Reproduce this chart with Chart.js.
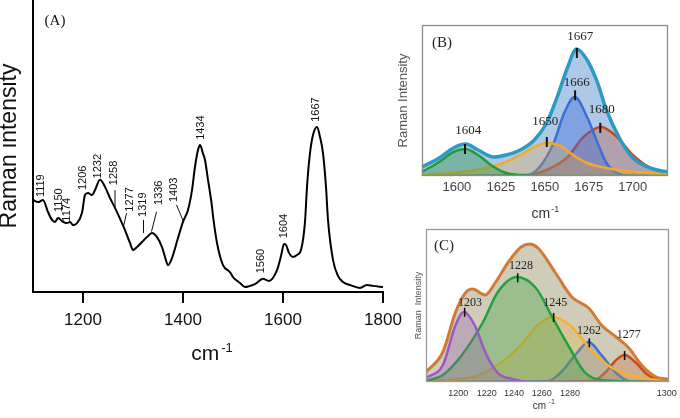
<!DOCTYPE html>
<html><head><meta charset="utf-8">
<script src="https://cdn.jsdelivr.net/npm/chart.js@4.4.0/dist/chart.umd.min.js"></script>
<style>
html,body{margin:0;padding:0;background:#fff;}
body{width:680px;height:418px;position:relative;overflow:hidden;}
canvas{position:absolute;}
#ca{left:0;top:0;}
#cb{left:390px;top:0;}
#cc{left:390px;top:215px;}
</style></head><body>
<canvas id="ca" width="412" height="418"></canvas>
<canvas id="cb" width="290" height="230"></canvas>
<canvas id="cc" width="290" height="203"></canvas>
<script>
// ---------- Panel A data ----------
const aWave = [1100,1110,1120,1130,1138,1144,1150,1160,1168,1174,1180,1188,1198,1204,1210,1218,1224,1234,1244,1254,1264,1278,1284,1294,1300,1308,1318,1328,1338,1348,1358,1364,1370,1378,1390,1400,1410,1418,1424,1430,1434,1440,1444,1450,1457,1461,1468,1480,1494,1500,1514,1524,1534,1544,1560,1572,1588,1596,1602,1606,1612,1620,1628,1636,1644,1648,1654,1660,1668,1674,1680,1686,1690,1700,1710,1720,1734,1754,1768,1780,1800];
const aInt = [31.5,30.8,31.5,27.4,24.7,24.0,25.3,24.0,23.6,24.0,22.9,23.6,27.1,33.2,33.9,33.2,34.9,38.4,36.0,32.2,28.8,23.6,21.2,16.8,14.4,15.4,17.1,18.8,20.2,18.8,15.4,12.0,9.2,11.6,18.5,24.0,28.1,34.9,42.9,48.6,50.3,47.4,45.2,38.4,30.5,24.7,16.8,9.2,6.8,5.1,3.1,1.7,2.1,2.7,4.5,3.8,7.5,12.3,16.4,16.1,13.4,12.0,12.7,14.4,24.0,36.0,47.6,53.8,56.5,53.1,47.6,36.0,24.7,11.0,5.5,3.4,2.4,1.4,2.4,2.1,1.7];
const aTicks = [1200,1400,1600,1800];
const aPeakText = ['1119','1150','1174','1206','1232','1258','1277','1319','1336','1403','1434','1560','1604','1667'];
const aPeakX = [1116,1151,1167,1199,1229,1262,1294,1319,1352,1382,1436,1556,1601,1666];
const aPeakY = [32.5,27.4,24.1,34.9,38.9,36.6,27.5,25.7,29.8,30.8,52.1,6.4,18.4,58.3];
const aLeadX1 = [1264,1281,1321,1337,1401];
const aLeadY1 = [28.8,22.4,20.2,20.7,24.1];
const aLeadX2 = [1264,1287,1321,1347,1387];
const aLeadY2 = [34.9,27.0,24.7,27.5,29.8];

// ---------- Panel B data ----------
const bTicks = [1600,1625,1650,1675,1700];
const bEnvX = [1580,1590,1598,1605,1612,1621,1628,1636,1644,1651,1657,1663,1668,1674,1680,1685,1693,1700,1710,1720];
const bEnvY = [9,18,28,32,26,19,21,26,36,53,79,109,127,116,93,66,36,18,8,4];
const bGreenX = [1580,1590,1598,1605,1612,1621,1628,1636,1645,1720];
const bGreenY = [4,14,24,27,21,9,3,1,0,0];
const bOrangeX = [1580,1598,1617,1628,1636,1644,1651,1659,1666,1674,1685,1700,1720];
const bOrangeY = [1,3,8,14,21,29,33,30,21,13,8,4,2];
const bBlueX = [1580,1640,1647,1655,1661,1667,1674,1680,1685,1691,1700,1720];
const bBlueY = [0,1,9,33,63,79,59,33,13,3,0,0];
const bRedX = [1580,1640,1651,1663,1672,1682,1691,1700,1710,1720];
const bRedY = [0,1,6,19,39,49,39,21,8,3];
const bPeakText = ['1604','1650','1666','1680','1667'];
const bPeakX = [1604.6,1651.1,1667.2,1681.5,1668.2];
const bPeakY = [27,34,80.7,48.2,123];
const bTextX = [1606.5,1650.2,1668.2,1682.4,1670.1];
const bTextY = [45.7,54,93,66.5,139];

// ---------- Panel C data ----------
const cTickVal = [1200.3,1213.7,1226.6,1239.8,1253.2,1298.9];
const cTickText = ['1200','1220','1240','1260','1280','1300'];
const cEnvX = [1185,1193,1199,1204,1207,1213,1218,1224,1230,1234,1238,1246,1254,1262,1268,1275,1281,1287,1294,1300];
const cEnvY = [10,30,70,90,93,87,100,120,135,138,134,110,85,74,57,45,34,17,5,3];
const cPurpleX = [1185,1193,1199,1203,1208,1213,1219,1226,1235,1300];
const cPurpleY = [4,17,57,70,57,30,9,3,0,0];
const cGreenX = [1185,1193,1202,1212,1219,1228,1237,1245,1253,1260,1268,1300];
const cGreenY = [1,7,27,60,90,105,94,64,34,10,2,0];
const cOrangeX = [1185,1207,1219,1230,1238,1245,1253,1262,1271,1281,1294,1300];
const cOrangeY = [1,5,17,37,57,65,57,35,17,7,2,1];
const cBlueX = [1185,1243,1249,1256,1262,1268,1275,1281,1300];
const cBlueY = [0,1,10,28,40,27,9,1,0];
const cRedX = [1185,1264,1270,1275,1279,1284,1290,1297,1300];
const cRedY = [0,1,10,22,27,20,7,1,0];
const cPeakText = ['1203','1228','1245','1262','1277'];
const cPeakX = [1203.3,1228.4,1245.4,1262.3,1279];
const cPeakY = [69.7,104.2,64.5,39.2,26.5];
const cTextX = [1205.8,1230,1246.2,1262.1,1281];
const cTextY = [78.7,116.5,78.7,50.7,47];

const SANS = '"Liberation Sans", Arial, sans-serif';
const SERIF = '"Liberation Serif", "Times New Roman", serif';

function pts(xs, ys) { return xs.map((x, i) => ({x: x, y: ys[i]})); }
function line(xs, ys, color, width, fillColor) {
  return {
    data: pts(xs, ys), borderColor: color, borderWidth: width,
    backgroundColor: fillColor || 'rgba(0,0,0,0)', fill: fillColor ? 'origin' : false,
    pointRadius: 0, cubicInterpolationMode: 'monotone'
  };
}
function fixX(h) {
  return s => { s.height = h; s.paddingLeft = 0; s.paddingRight = 0; s.paddingTop = 0; s.paddingBottom = 0; };
}
function fixY(w) {
  return s => { s.width = w; s.paddingTop = 0; s.paddingBottom = 0; s.paddingLeft = 0; s.paddingRight = 0; };
}

function drawUnit(ctx, cx, baseY, size, supSize, rise, gap, color, mainText) {
  ctx.save();
  ctx.fillStyle = color;
  ctx.textAlign = 'left';
  ctx.textBaseline = 'alphabetic';
  ctx.font = size + 'px ' + SANS;
  const w1 = ctx.measureText(mainText).width;
  ctx.font = supSize + 'px ' + SANS;
  const w2 = ctx.measureText('-1').width;
  const x0 = cx - (w1 + gap + w2) / 2;
  ctx.font = size + 'px ' + SANS;
  ctx.fillText(mainText, x0, baseY);
  ctx.font = supSize + 'px ' + SANS;
  ctx.fillText('-1', x0 + w1 + gap, baseY - rise);
  ctx.restore();
}

// ---------- Panel A ----------
const annA = {
  id: 'annA',
  afterDatasetsDraw(chart) {
    const {ctx, chartArea: ca} = chart;
    const xs = chart.scales.x, ys = chart.scales.y;
    ctx.save();
    ctx.fillStyle = '#111';
    ctx.font = '11px ' + SANS;
    ctx.textAlign = 'left';
    ctx.textBaseline = 'middle';
    aPeakText.forEach((t, i) => {
      ctx.save();
      ctx.translate(xs.getPixelForValue(aPeakX[i]), ys.getPixelForValue(aPeakY[i]));
      ctx.rotate(-Math.PI / 2);
      ctx.fillText(t, 0, 0);
      ctx.restore();
    });
    ctx.strokeStyle = '#111';
    ctx.lineWidth = 1;
    aLeadX1.forEach((v, i) => {
      ctx.beginPath();
      ctx.moveTo(xs.getPixelForValue(v), ys.getPixelForValue(aLeadY1[i]));
      ctx.lineTo(xs.getPixelForValue(aLeadX2[i]), ys.getPixelForValue(aLeadY2[i]));
      ctx.stroke();
    });
    ctx.font = '15px ' + SERIF;
    ctx.textAlign = 'center';
    ctx.fillText('(A)', xs.getPixelForValue(1144), ys.getPixelForValue(92.8));
    ctx.restore();
    drawUnit(ctx, (ca.left + ca.right) / 2 + 4, ca.bottom + 68, 21, 13, 8, 2, '#111', 'cm');
  }
};

new Chart(document.getElementById('ca'), {
  type: 'line',
  data: { datasets: [ line(aWave, aInt, '#000', 2) ] },
  options: {
    responsive: false, animation: false, devicePixelRatio: 1,
    layout: { padding: {left: 0, right: 29, top: 0, bottom: 0} },
    plugins: { legend: {display: false}, tooltip: {enabled: false} },
    scales: {
      x: {
        type: 'linear', min: 1100, max: 1800,
        afterBuildTicks: s => { s.ticks = aTicks.map(v => ({value: v})); },
        afterFit: fixX(126),
        ticks: { autoSkip: false, maxRotation: 0, padding: 7, color: '#111',
                 font: {size: 17, family: SANS}, callback: v => String(v) },
        grid: { display: true, drawOnChartArea: false, drawTicks: true, tickLength: 11,
                color: '#000', tickColor: '#000', lineWidth: 2, tickWidth: 2 },
        border: { display: true, color: '#000', width: 2 }
      },
      y: {
        min: 0, max: 100,
        afterFit: fixY(33),
        ticks: { display: false },
        grid: { display: false, drawTicks: false },
        border: { display: true, color: '#000', width: 2 },
        title: { display: true, text: 'Raman intensity', color: '#111',
                 font: {size: 23, family: SANS}, padding: {top: -4.6, bottom: 0} }
      }
    }
  },
  plugins: [annA]
});

// ---------- Panels B & C ----------
function peakPlugin(cfg) {
  return {
    id: 'peaks' + cfg.key,
    afterDatasetsDraw(chart) {
      const {ctx, chartArea: ca} = chart;
      const xs = chart.scales.x, ys = chart.scales.y;
      ctx.save();
      ctx.strokeStyle = cfg.boxColor;
      ctx.lineWidth = cfg.boxWidth;
      ctx.strokeRect(Math.round(ca.left) + 0.5, Math.round(ca.top) + 0.5,
                     Math.round(ca.right - ca.left) - 1, Math.round(ca.bottom - ca.top) - 1);
      if (cfg.innerTicks) {
        ctx.lineWidth = 1;
        xs.ticks.forEach(t => {
          const X = Math.round(xs.getPixelForValue(t.value)) + 0.5;
          ctx.beginPath(); ctx.moveTo(X, ca.bottom); ctx.lineTo(X, ca.bottom - 4); ctx.stroke();
        });
      }
      ctx.strokeStyle = '#111';
      ctx.lineWidth = cfg.tickWidth;
      cfg.px.forEach((v, i) => {
        const X = xs.getPixelForValue(v), Y = ys.getPixelForValue(cfg.py[i]);
        ctx.beginPath(); ctx.moveTo(X, Y - cfg.tickHalf); ctx.lineTo(X, Y + cfg.tickHalf); ctx.stroke();
      });
      ctx.fillStyle = '#222';
      ctx.font = cfg.labelSize + 'px ' + SERIF;
      ctx.textAlign = 'center';
      ctx.textBaseline = 'middle';
      cfg.text.forEach((t, i) => ctx.fillText(t, xs.getPixelForValue(cfg.tx[i]), ys.getPixelForValue(cfg.ty[i])));
      ctx.font = '15px ' + SERIF;
      ctx.fillText(cfg.panel, xs.getPixelForValue(cfg.panelX), ys.getPixelForValue(cfg.panelY));
      ctx.restore();
      drawUnit(ctx, (ca.left + ca.right) / 2 + cfg.unitDx, ca.bottom + cfg.unitDy,
               cfg.unitSize, cfg.supSize, cfg.rise, cfg.gap, '#333', cfg.unitText);
    }
  };
}

// Panel B
new Chart(document.getElementById('cb'), {
  type: 'line',
  data: { datasets: [
    line(bEnvX, bEnvY, '#2b9bc2', 3.5),
    line(bGreenX, bGreenY, '#239a38', 2.5, 'rgba(40,150,60,0.40)'),
    line(bOrangeX, bOrangeY, '#f2aa2e', 2.5, 'rgba(235,165,40,0.28)'),
    line(bBlueX, bBlueY, '#3b6fd8', 2.5, 'rgba(60,105,215,0.40)'),
    line(bRedX, bRedY, '#c9481e', 2.5, 'rgba(190,70,40,0.30)'),
    line(bEnvX, bEnvY, 'rgba(0,0,0,0)', 0, 'rgba(130,170,220,0.65)')
  ] },
  options: {
    responsive: false, animation: false, devicePixelRatio: 1,
    layout: { padding: {left: 0, right: 12, top: 25, bottom: 0} },
    plugins: { legend: {display: false}, tooltip: {enabled: false} },
    scales: {
      x: {
        type: 'linear', min: 1580, max: 1720,
        afterBuildTicks: s => { s.ticks = bTicks.map(v => ({value: v})); },
        afterFit: fixX(54),
        ticks: { autoSkip: false, maxRotation: 0, padding: 4, color: '#444',
                 font: {size: 13, family: SANS}, callback: v => String(v) },
        grid: { display: false, drawTicks: false }, border: { display: false }
      },
      y: {
        min: 0, max: 151,
        afterFit: fixY(31.7),
        ticks: { display: false }, grid: { display: false, drawTicks: false }, border: { display: false },
        title: { display: true, text: 'Raman Intensity', color: '#555',
                 font: {size: 13, family: SANS}, padding: {top: 5.3, bottom: 0} }
      }
    }
  },
  plugins: [peakPlugin({
    key: 'B', boxColor: '#8c8c8c', boxWidth: 1.3, innerTicks: true,
    px: bPeakX, py: bPeakY, tx: bTextX, ty: bTextY, text: bPeakText,
    tickWidth: 2, tickHalf: 5, labelSize: 13,
    panel: '(B)', panelX: 1591.5, panelY: 133,
    unitDx: 0.5, unitDy: 42, unitSize: 14, supSize: 9, rise: 6, gap: 1, unitText: 'cm'
  })]
});

// Panel C
new Chart(document.getElementById('cc'), {
  type: 'line',
  data: { datasets: [
    line(cEnvX, cEnvY, '#d27b36', 3),
    line(cPurpleX, cPurpleY, '#9b59c8', 2.5, 'rgba(150,90,180,0.30)'),
    line(cGreenX, cGreenY, '#23a040', 2.5, 'rgba(60,160,60,0.35)'),
    line(cOrangeX, cOrangeY, '#f5b030', 2.5, 'rgba(240,170,40,0.25)'),
    line(cBlueX, cBlueY, '#3a70d8', 2.5, 'rgba(60,110,220,0.25)'),
    line(cRedX, cRedY, '#c84a1a', 2.5, 'rgba(200,80,30,0.25)'),
    line(cEnvX, cEnvY, 'rgba(0,0,0,0)', 0, 'rgba(160,155,115,0.50)')
  ] },
  options: {
    responsive: false, animation: false, devicePixelRatio: 1,
    layout: { padding: {left: 0, right: 11, top: 14, bottom: 0} },
    plugins: { legend: {display: false}, tooltip: {enabled: false} },
    scales: {
      x: {
        type: 'linear', min: 1185, max: 1300,
        afterBuildTicks: s => { s.ticks = cTickVal.map(v => ({value: v})); },
        afterFit: fixX(36),
        ticks: { autoSkip: false, maxRotation: 0, padding: 6, color: '#333',
                 font: {size: 9, family: SANS}, callback: (v, i) => cTickText[i] },
        grid: { display: false, drawTicks: false }, border: { display: false }
      },
      y: {
        min: 0, max: 153,
        afterFit: fixY(36),
        ticks: { display: false }, grid: { display: false, drawTicks: false }, border: { display: false },
        title: { display: true, text: 'Raman  Intensity', color: '#555',
                 font: {size: 9, family: SANS}, padding: {top: 22.9, bottom: 0} }
      }
    }
  },
  plugins: [peakPlugin({
    key: 'C', boxColor: '#999', boxWidth: 1.3, innerTicks: false,
    px: cPeakX, py: cPeakY, tx: cTextX, ty: cTextY, text: cPeakText,
    tickWidth: 1.6, tickHalf: 4.5, labelSize: 12,
    panel: '(C)', panelX: 1193.5, panelY: 136,
    unitDx: -3.7, unitDy: 26.5, unitSize: 10, supSize: 7, rise: 4.5, gap: 2.5, unitText: 'cm'
  })]
});
</script>
</body></html>
